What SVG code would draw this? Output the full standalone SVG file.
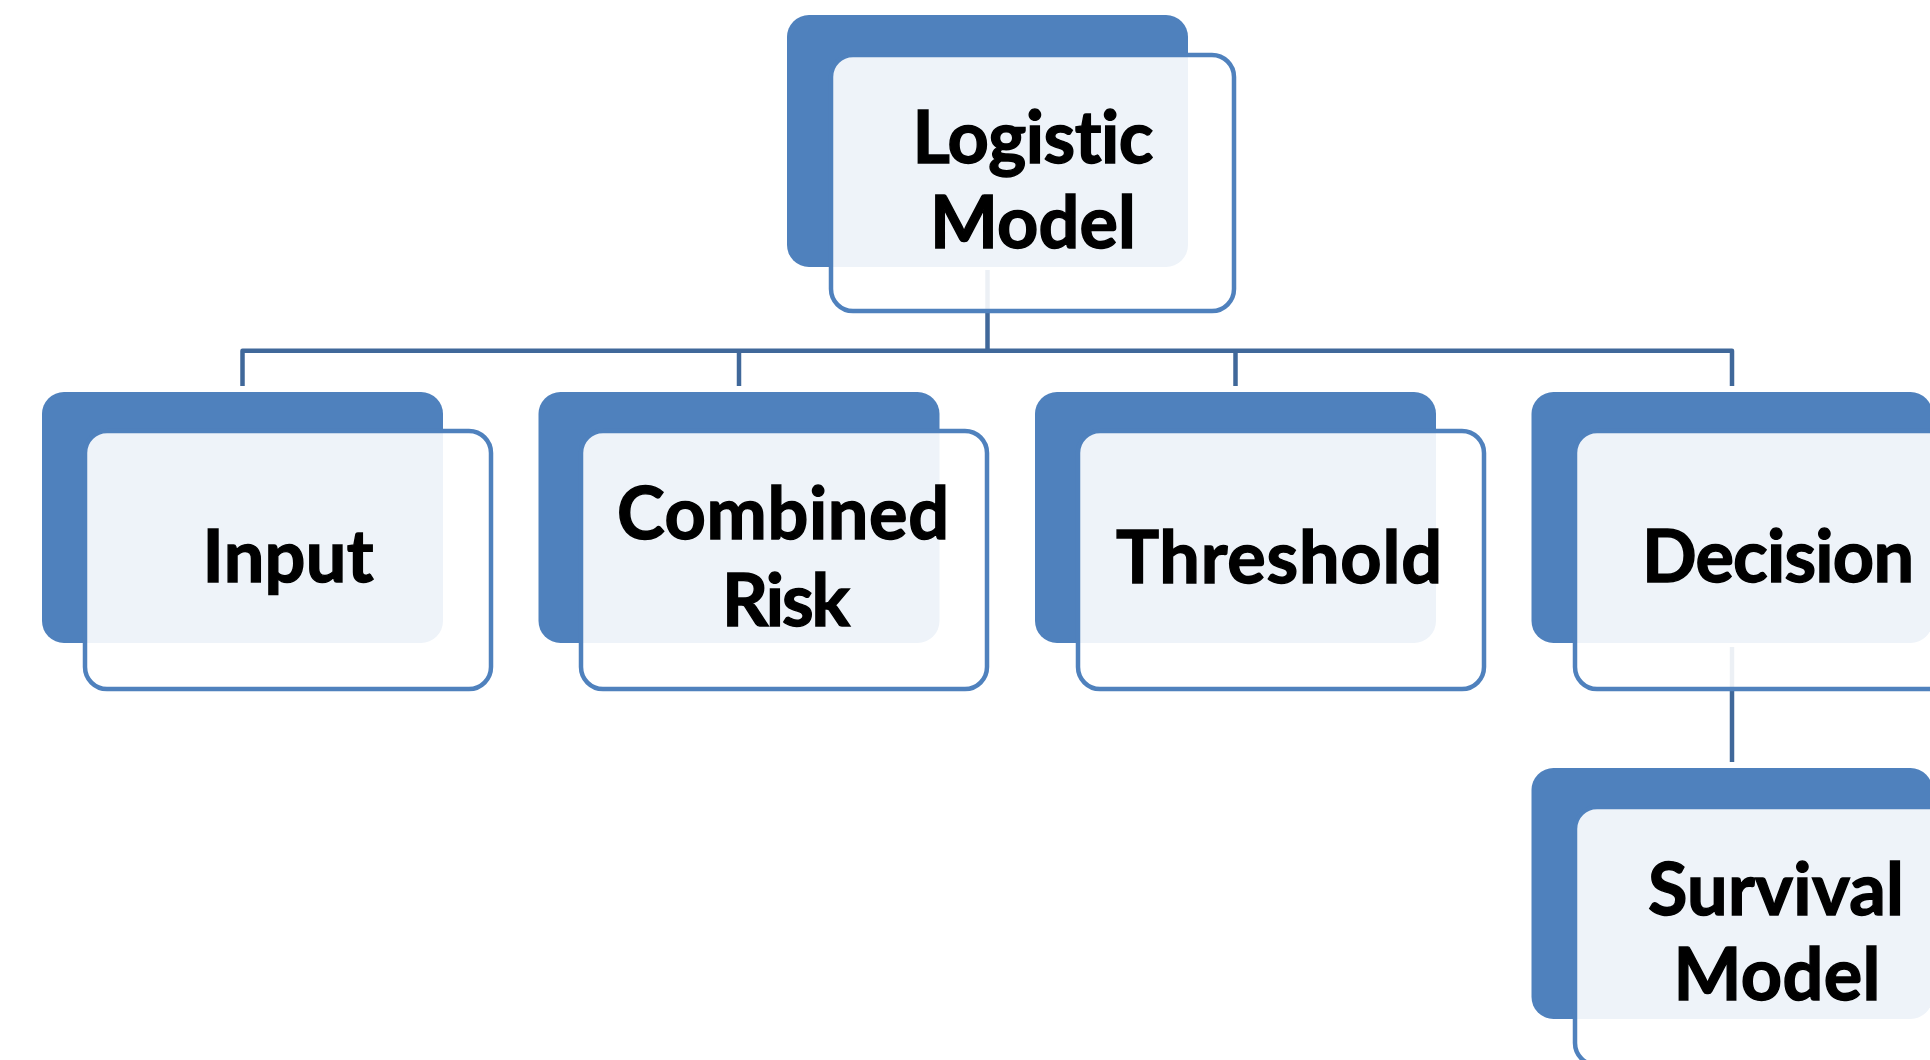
<svg xmlns="http://www.w3.org/2000/svg" width="1930" height="1060" viewBox="0 0 1930 1060">
<style>
.back{fill:#4F81BD;}
.front{fill:#FFFFFF;fill-opacity:0.9;stroke:#4F81BD;stroke-width:4.5;}
.conn{fill:none;stroke:#40689A;stroke-width:4.5;stroke-linejoin:round;}
.lbl{font-family:Lato,"Liberation Sans",sans-serif;font-weight:bold;font-size:72px;fill:#000000;stroke:#000000;stroke-width:1.4;text-anchor:middle;font-variant-ligatures:none;}
</style>
<rect width="1930" height="1060" fill="#FFFFFF"/>
<g id="connectors">
<path class="conn" d="M987.5,270 V350.8"/>
<path class="conn" d="M242.5,386 V350.8 H1732 V386"/>
<path class="conn" d="M739,350.8 V386"/>
<path class="conn" d="M1235.5,350.8 V386"/>
<path class="conn" d="M1732,647 V762"/>
</g>
<g id="node-logistic">
<rect class="back" x="787" y="15" width="401" height="252" rx="22"/>
<rect class="front" x="831" y="55" width="403" height="256" rx="22"/>
<text class="lbl" x="1033" y="163" textLength="241">Logistic</text>
<text class="lbl" x="1033" y="248" textLength="206">Model</text>
</g>
<g id="node-input">
<rect class="back" x="42" y="392" width="401" height="251" rx="22"/>
<rect class="front" x="85" y="431" width="406" height="258" rx="22"/>
<text class="lbl" x="288" y="582" textLength="171">Input</text>
</g>
<g id="node-combined">
<rect class="back" x="538.5" y="392" width="401" height="251" rx="22"/>
<rect class="front" x="581" y="431" width="406" height="258" rx="22"/>
<text class="lbl" x="783" y="539" textLength="332">Combined</text>
<text class="lbl" x="786" y="626" textLength="128">Risk</text>
</g>
<g id="node-threshold">
<rect class="back" x="1035" y="392" width="401" height="251" rx="22"/>
<rect class="front" x="1078" y="431" width="406" height="258" rx="22"/>
<text class="lbl" x="1279" y="583" textLength="326">Threshold</text>
</g>
<g id="node-decision">
<rect class="back" x="1531.5" y="392" width="401" height="251" rx="22"/>
<rect class="front" x="1575" y="431" width="406" height="258" rx="22"/>
<text class="lbl" x="1778" y="582" textLength="272">Decision</text>
</g>
<g id="node-survival">
<rect class="back" x="1531.5" y="768" width="401" height="251" rx="22"/>
<rect class="front" x="1575" y="807" width="406" height="258" rx="22"/>
<text class="lbl" x="1776" y="915" textLength="256">Survival</text>
<text class="lbl" x="1777" y="1000" textLength="207">Model</text>
</g>
</svg>
